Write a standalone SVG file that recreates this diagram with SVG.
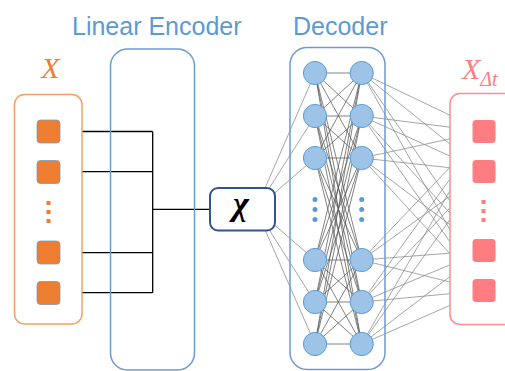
<svg xmlns="http://www.w3.org/2000/svg" width="505" height="371" viewBox="0 0 505 371">
  <style>
    .title { font-family: "Liberation Sans", Arial, sans-serif; font-size: 25px; fill: #5B9BD5; }
    .math { font-family: "Liberation Serif", "Times New Roman", serif; font-style: italic; }
    .frame-blue { fill: none; stroke: #6C9BD2; stroke-width: 1.5; }
    .neuron { fill: #9DC3E6; stroke: #5B9BD5; stroke-width: 1; }
    .bdot { fill: #5B9BD5; }
    .in-cell { fill: #ED7D31; stroke: #8497B0; stroke-width: 0.8; }
    .out-cell { fill: #FF7C80; }
    .wire { stroke: #000; stroke-width: 1.3; fill: none; }
    .edge { stroke: #7F7F7F; stroke-width: 0.7; }
    .edge-dense { stroke: #595959; stroke-width: 0.75; }
  </style>

  <rect width="505" height="371" fill="#fff"/>

  <!-- titles -->
  <text class="title" x="72" y="35">Linear Encoder</text>
  <text class="title" x="293" y="35">Decoder</text>

  <!-- connectors -->
  <g id="connectors">
    <!-- encoder wiring: inputs merge into latent -->
    <path class="wire" d="M82,131.5 H152.7 M82,171.7 H152.7 M82,252.7 H152.7 M82,292.7 H152.7 M152.7,131.5 V292.7 M152.7,209.3 H210"/>
    <!-- latent to first hidden layer -->
    <g class="edge">
      <line x1="256" y1="209" x2="315" y2="73"/>
      <line x1="256" y1="209" x2="315" y2="116"/>
      <line x1="256" y1="209" x2="315" y2="158"/>
      <line x1="256" y1="209" x2="315" y2="260"/>
      <line x1="256" y1="209" x2="315" y2="302"/>
      <line x1="256" y1="209" x2="315" y2="344"/>
    </g>
    <!-- hidden layer 1 to hidden layer 2 (fully connected) -->
    <g class="edge-dense">
      <line x1="315" y1="73" x2="361.7" y2="73"/><line x1="315" y1="73" x2="361.7" y2="116"/><line x1="315" y1="73" x2="361.7" y2="158"/><line x1="315" y1="73" x2="361.7" y2="260"/><line x1="315" y1="73" x2="361.7" y2="302"/><line x1="315" y1="73" x2="361.7" y2="344"/>
      <line x1="315" y1="116" x2="361.7" y2="73"/><line x1="315" y1="116" x2="361.7" y2="116"/><line x1="315" y1="116" x2="361.7" y2="158"/><line x1="315" y1="116" x2="361.7" y2="260"/><line x1="315" y1="116" x2="361.7" y2="302"/><line x1="315" y1="116" x2="361.7" y2="344"/>
      <line x1="315" y1="158" x2="361.7" y2="73"/><line x1="315" y1="158" x2="361.7" y2="116"/><line x1="315" y1="158" x2="361.7" y2="158"/><line x1="315" y1="158" x2="361.7" y2="260"/><line x1="315" y1="158" x2="361.7" y2="302"/><line x1="315" y1="158" x2="361.7" y2="344"/>
      <line x1="315" y1="260" x2="361.7" y2="73"/><line x1="315" y1="260" x2="361.7" y2="116"/><line x1="315" y1="260" x2="361.7" y2="158"/><line x1="315" y1="260" x2="361.7" y2="260"/><line x1="315" y1="260" x2="361.7" y2="302"/><line x1="315" y1="260" x2="361.7" y2="344"/>
      <line x1="315" y1="302" x2="361.7" y2="73"/><line x1="315" y1="302" x2="361.7" y2="116"/><line x1="315" y1="302" x2="361.7" y2="158"/><line x1="315" y1="302" x2="361.7" y2="260"/><line x1="315" y1="302" x2="361.7" y2="302"/><line x1="315" y1="302" x2="361.7" y2="344"/>
      <line x1="315" y1="344" x2="361.7" y2="73"/><line x1="315" y1="344" x2="361.7" y2="116"/><line x1="315" y1="344" x2="361.7" y2="158"/><line x1="315" y1="344" x2="361.7" y2="260"/><line x1="315" y1="344" x2="361.7" y2="302"/><line x1="315" y1="344" x2="361.7" y2="344"/>
    </g>
    <!-- hidden layer 2 to outputs -->
    <g class="edge">
      <line x1="361.7" y1="73" x2="484" y2="131.5"/><line x1="361.7" y1="73" x2="484" y2="171.5"/><line x1="361.7" y1="73" x2="484" y2="250.5"/><line x1="361.7" y1="73" x2="484" y2="290.5"/>
      <line x1="361.7" y1="116" x2="484" y2="131.5"/><line x1="361.7" y1="116" x2="484" y2="171.5"/><line x1="361.7" y1="116" x2="484" y2="250.5"/><line x1="361.7" y1="116" x2="484" y2="290.5"/>
      <line x1="361.7" y1="158" x2="484" y2="131.5"/><line x1="361.7" y1="158" x2="484" y2="171.5"/><line x1="361.7" y1="158" x2="484" y2="250.5"/><line x1="361.7" y1="158" x2="484" y2="290.5"/>
      <line x1="361.7" y1="260" x2="484" y2="131.5"/><line x1="361.7" y1="260" x2="484" y2="171.5"/><line x1="361.7" y1="260" x2="484" y2="250.5"/><line x1="361.7" y1="260" x2="484" y2="290.5"/>
      <line x1="361.7" y1="302" x2="484" y2="131.5"/><line x1="361.7" y1="302" x2="484" y2="171.5"/><line x1="361.7" y1="302" x2="484" y2="250.5"/><line x1="361.7" y1="302" x2="484" y2="290.5"/>
      <line x1="361.7" y1="344" x2="484" y2="131.5"/><line x1="361.7" y1="344" x2="484" y2="171.5"/><line x1="361.7" y1="344" x2="484" y2="250.5"/><line x1="361.7" y1="344" x2="484" y2="290.5"/>
    </g>
  </g>

  <!-- input X -->
  <g id="input">
    <text class="math" x="50.5" y="78" font-size="30" fill="#ED7D31" text-anchor="middle">X</text>
    <rect x="14.5" y="94.5" width="67.5" height="229.5" rx="10" fill="none" stroke="#F4A064" stroke-width="1.5"/>
    <rect class="in-cell" x="37" y="120" width="23" height="23" rx="3.5"/>
    <rect class="in-cell" x="37" y="160.5" width="23" height="23" rx="3.5"/>
    <rect x="46.5" y="201" width="4" height="4" fill="#ED7D31"/>
    <rect x="46.5" y="210" width="4" height="4" fill="#ED7D31"/>
    <rect x="46.5" y="219" width="4" height="4" fill="#ED7D31"/>
    <rect class="in-cell" x="37" y="241" width="23" height="23" rx="3.5"/>
    <rect class="in-cell" x="37" y="281.5" width="23" height="23" rx="3.5"/>
  </g>

  <!-- linear encoder frame -->
  <g id="encoder">
    <rect class="frame-blue" x="110.5" y="49" width="84" height="321" rx="17"/>
  </g>

  <!-- latent chi -->
  <g id="latent">
    <rect x="210" y="188" width="65" height="42.5" rx="8" fill="#fff" stroke="#2F5597" stroke-width="2"/>
    <text class="math" x="241" y="215" font-size="34" font-weight="bold" fill="#000" text-anchor="middle">χ</text>
  </g>

  <!-- decoder network -->
  <g id="decoder">
    <rect class="frame-blue" x="290" y="47.5" width="95" height="322" rx="17"/>
    <g id="layer1">
      <circle class="neuron" cx="315" cy="73" r="11.6"/>
      <circle class="neuron" cx="315" cy="116" r="11.6"/>
      <circle class="neuron" cx="315" cy="158" r="11.6"/>
      <circle class="bdot" cx="315" cy="199.5" r="2.5"/>
      <circle class="bdot" cx="315" cy="209.5" r="2.5"/>
      <circle class="bdot" cx="315" cy="219.5" r="2.5"/>
      <circle class="neuron" cx="315" cy="260" r="11.6"/>
      <circle class="neuron" cx="315" cy="302" r="11.6"/>
      <circle class="neuron" cx="315" cy="344" r="11.6"/>
    </g>
    <g id="layer2">
      <circle class="neuron" cx="361.7" cy="73" r="11.6"/>
      <circle class="neuron" cx="361.7" cy="116" r="11.6"/>
      <circle class="neuron" cx="361.7" cy="158" r="11.6"/>
      <circle class="bdot" cx="361.7" cy="199.5" r="2.5"/>
      <circle class="bdot" cx="361.7" cy="209.5" r="2.5"/>
      <circle class="bdot" cx="361.7" cy="219.5" r="2.5"/>
      <circle class="neuron" cx="361.7" cy="260" r="11.6"/>
      <circle class="neuron" cx="361.7" cy="302" r="11.6"/>
      <circle class="neuron" cx="361.7" cy="344" r="11.6"/>
    </g>
  </g>

  <!-- output X_Δt -->
  <g id="output">
    <text class="math" x="462" y="79" font-size="30" fill="#FF7C80">X<tspan font-size="20" dy="7">Δt</tspan></text>
    <rect x="450" y="93.5" width="80" height="231" rx="10" fill="#fff" stroke="#FF8C8F" stroke-width="1.5"/>
    <rect class="out-cell" x="472.5" y="120" width="23" height="23" rx="3.5"/>
    <rect class="out-cell" x="472.5" y="160" width="23" height="23" rx="3.5"/>
    <rect x="481.5" y="200" width="4" height="4" fill="#FF7C80"/>
    <rect x="481.5" y="209" width="4" height="4" fill="#FF7C80"/>
    <rect x="481.5" y="218" width="4" height="4" fill="#FF7C80"/>
    <rect class="out-cell" x="472.5" y="239" width="23" height="23" rx="3.5"/>
    <rect class="out-cell" x="472.5" y="279" width="23" height="23" rx="3.5"/>
  </g>
</svg>
